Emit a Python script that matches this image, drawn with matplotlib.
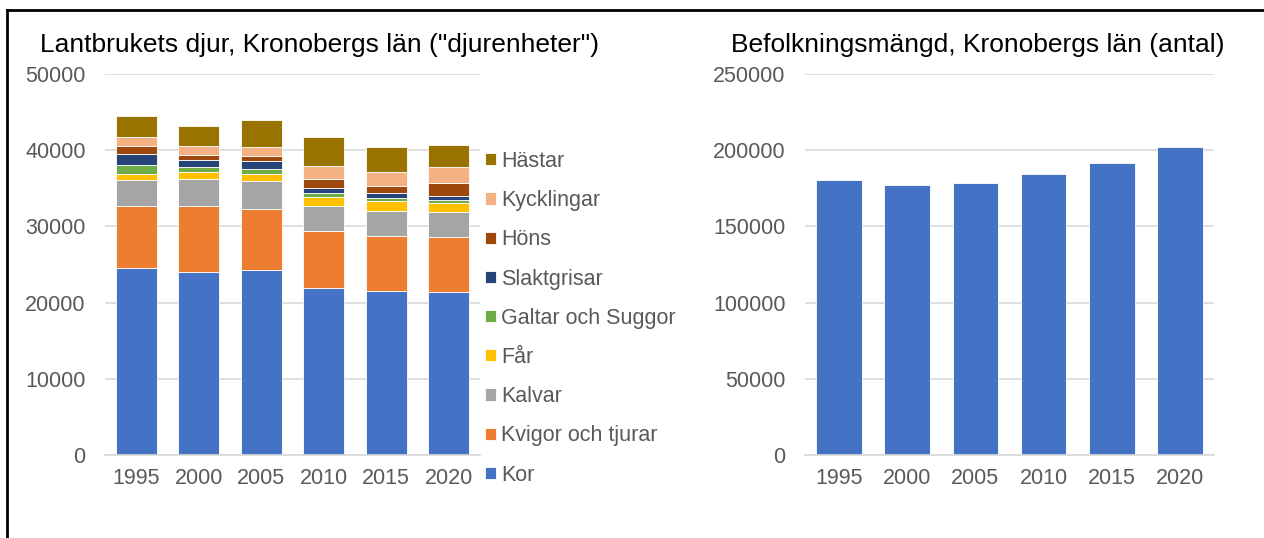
import numpy as np
import matplotlib
matplotlib.use("Agg")
import matplotlib.pyplot as plt
from matplotlib.lines import Line2D

plt.rcParams["font.family"] = ["Liberation Sans", "DejaVu Sans"]

years = ["1995", "2000", "2005", "2010", "2015", "2020"]

# djurenheter per kategori (nedifrån och upp)
kor = [24550, 24020, 24320, 21960, 21560, 21430]
kvigor = [8130, 8620, 8000, 7440, 7140, 7140]
kalvar = [3410, 3580, 3600, 3320, 3320, 3280]
far = [750, 920, 960, 1100, 1310, 1180]
galtar = [1180, 660, 650, 520, 440, 480]
slaktgrisar = [1480, 960, 1010, 740, 570, 440]
hons = [1050, 610, 740, 1140, 1000, 1790]
kycklingar = [1220, 1180, 1140, 1670, 1800, 2020]
hastar = [2760, 2630, 3540, 3880, 3280, 2920]

series_labels = ["Kor", "Kvigor och tjurar", "Kalvar", "Får", "Galtar och Suggor",
                 "Slaktgrisar", "Höns", "Kycklingar", "Hästar"]
series_colors = ["#4472C4", "#ED7D31", "#A5A5A5", "#FFC000", "#70AD47",
                 "#264478", "#9E480E", "#F4B183", "#997300"]

befolkning = [180500, 177000, 178800, 184200, 191700, 202400]

W, H = 1264, 538
fig = plt.figure(figsize=(W / 100, H / 100), dpi=100)


def px_axes(x0, y_top, x1, y_bot):
    return fig.add_axes([x0 / W, 1 - y_bot / H, (x1 - x0) / W, (y_bot - y_top) / H])


def style_axis(ax, ymax, step):
    ax.set_ylim(0, ymax)
    ax.set_xlim(-0.5, len(years) - 0.5)
    ax.set_yticks(np.arange(0, ymax + 1, step))
    ax.yaxis.grid(True, color="#D9D9D9", linewidth=1.2)
    ax.set_axisbelow(True)
    for side in ["top", "right", "left"]:
        ax.spines[side].set_visible(False)
    ax.spines["bottom"].set_color("#D9D9D9")
    ax.spines["bottom"].set_linewidth(1.2)
    ax.tick_params(length=0, labelsize=15.5, colors="#595959", pad=14)
    ax.tick_params(axis="x", pad=9)


# =====================================
# Lantbrukets djur
# =====================================

ax1 = px_axes(105, 74, 480, 455)
x = np.arange(len(years))
data = [kor, kvigor, kalvar, far, galtar, slaktgrisar, hons, kycklingar, hastar]
bottom = np.zeros(len(years))
handles = []
for values, label, color in zip(data, series_labels, series_colors):
    b = ax1.bar(x, values, 0.66, bottom=bottom, color=color, edgecolor="white",
                linewidth=0.6, label=label)
    handles.append(b)
    bottom += np.array(values)
ax1.set_xticks(x)
ax1.set_xticklabels(years)
style_axis(ax1, 50000, 10000)

fig.text(40 / W, 1 - 45 / H, 'Lantbrukets djur, Kronobergs län ("djurenheter")',
         fontsize=19, va="center", ha="left", color="black")

fig.legend(handles[::-1], series_labels[::-1], loc="upper left",
           bbox_to_anchor=(485 / W, 1 - 151 / H), frameon=False,
           fontsize=15.5, labelcolor="#595959", handlelength=0.5, handleheight=0.5,
           handletextpad=0.25, labelspacing=0.845, borderaxespad=0, borderpad=0)

# =====================================
# Befolkningsmängd
# =====================================

ax2 = px_axes(805, 74, 1214, 455)
ax2.bar(x, befolkning, 0.67, color="#4472C4", edgecolor="white", linewidth=0.6)
ax2.set_xticks(x)
ax2.set_xticklabels(years)
style_axis(ax2, 250000, 50000)

fig.text(731 / W, 1 - 45 / H, "Befolkningsmängd, Kronobergs län (antal)",
         fontsize=19, va="center", ha="left", color="black")

# ram
for xs, ys in [((7, 7), (10, H)), ((7, W), (10, 10))]:
    fig.add_artist(Line2D([v / W for v in xs], [1 - v / H for v in ys],
                          color="black", linewidth=2))

fig.savefig("out.png", dpi=100)
plt.close(fig)
